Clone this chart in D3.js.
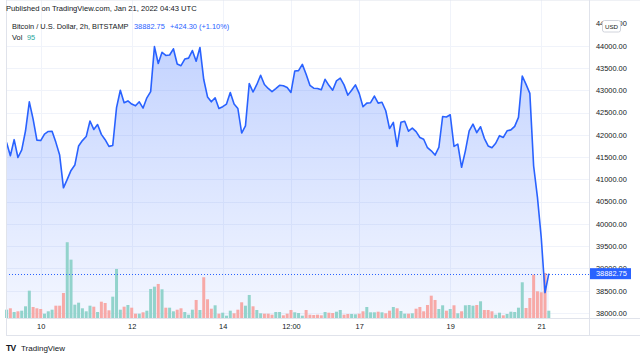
<!DOCTYPE html>
<html>
<head>
<meta charset="utf-8">
<script src="https://cdn.jsdelivr.net/npm/d3@7"></script>
<style>
body { margin: 0; background: #fff; }
svg { display: block; font-family: "Liberation Sans", Arial, sans-serif; }
</style>
</head>
<body>
<svg id="chart" width="640" height="358"></svg>
<script>
// 2h closes, Jan 9 06:00 -> Jan 21 04:00 UTC (BITSTAMP BTCUSD)
var closes = [
  41828, 41530, 41890, 41490, 41660, 42090, 42740, 42350, 41880, 41870,
  42015, 42075, 42080, 41830, 41545, 40810, 41000, 41200, 41320, 41750,
  41870, 41960, 42310, 42120, 42230, 42010, 41890, 41740, 41760, 42610,
  43000, 42720, 42760, 42690, 42650, 42740, 42600, 42830, 42970, 43980,
  43600, 43850, 43780, 43790, 43930, 43590, 43550, 43700, 43720, 43890,
  43650, 43960, 43240, 42850, 42740, 42830, 42590, 42630, 42690, 42950,
  42690, 42590, 42040, 42200, 43150, 42960, 43130, 43335, 43130, 43040,
  42970, 43037, 43110, 43100, 43060, 42950, 43430, 43440, 43580, 43360,
  43110, 43045, 43040, 43010, 43245, 43110, 43000, 43210, 43270, 43120,
  42890, 43000, 43120, 42930, 42630, 42710, 42720, 42870, 42710, 42730,
  42540, 42140, 42280, 41740, 42280, 42305, 42080, 42150, 42070, 41940,
  41900, 41710, 41640, 41545, 41715, 42410, 42400, 42450, 41740, 41790,
  41270, 41640, 42090, 42240, 42050, 42180, 41920, 41750, 41710, 41810,
  41980, 41940, 42090, 42110, 42190, 42390, 43320, 43130, 42930, 41300,
  40600, 39700, 38458.45, 38882.75
];

// volume per bar (BTC)
var volumes = [
  108, 126, 78, 87, 95, 152, 355, 143, 126, 117,
  56, 87, 108, 160, 160, 325, 984, 758, 173, 199,
  126, 87, 160, 147, 78, 212, 195, 100, 277, 637,
  108, 147, 169, 134, 56, 56, 74, 95, 377, 407,
  442, 373, 134, 134, 87, 108, 126, 78, 43, 108,
  234, 104, 529, 243, 121, 165, 56, 69, 30, 95,
  61, 108, 204, 160, 299, 152, 104, 61, 56, 56,
  43, 78, 78, 35, 56, 104, 74, 65, 30, 104,
  43, 39, 43, 35, 78, 69, 65, 82, 104, 43,
  52, 52, 48, 56, 87, 143, 74, 74, 82, 74,
  61, 95, 143, 126, 91, 56, 56, 61, 121, 143,
  87, 169, 290, 234, 117, 165, 95, 117, 165, 61,
  87, 165, 169, 160, 169, 217, 104, 104, 87, 43,
  69, 35, 52, 82, 78, 134, 464, 130, 260, 563,
  347, 334, 585, 95
];

var firstBar = Date.UTC(2022, 0, 9, 6);
var barMs = 2 * 3600 * 1000;

var tickDates = [
  Date.UTC(2022, 0, 10), Date.UTC(2022, 0, 12), Date.UTC(2022, 0, 14),
  Date.UTC(2022, 0, 15, 12), Date.UTC(2022, 0, 17), Date.UTC(2022, 0, 19),
  Date.UTC(2022, 0, 21)
];
var tickLabels = ["10", "12", "14", "12:00", "17", "19", "21"];
var priceTicks = [38000, 38500, 39000, 39500, 40000, 40500, 41000, 41500,
                  42000, 42500, 43000, 43500, 44000, 44500];

var lastPrice = 38882.75;

var svg = d3.select("#chart"),
    left = 6, right = 589, top = 16, bottom = 318,
    fs = "7.4px";

var x = d3.scaleTime()
    .domain([new Date(Date.UTC(2022, 0, 9, 5, 42)), new Date(Date.UTC(2022, 0, 22, 1, 12))])
    .range([left, right]);
var y = d3.scaleLinear().domain([38000, 44500]).range([313, 23.4]);
var yVol = d3.scaleLinear().domain([0, 1000]).range([bottom, bottom - 77]);

var data = closes.map(function(c, i) {
    return {
        t: new Date(firstBar + i * barMs),
        close: c,
        vol: volumes[i],
        up: i === 0 ? true : c >= closes[i - 1]
    };
});

var defs = svg.append("defs");
var grad = defs.append("linearGradient")
    .attr("id", "areaFill")
    .attr("gradientUnits", "userSpaceOnUse")
    .attr("x1", 0).attr("y1", 45).attr("x2", 0).attr("y2", bottom);
grad.append("stop").attr("offset", "0%").attr("stop-color", "rgba(41,98,255,0.28)");
grad.append("stop").attr("offset", "100%").attr("stop-color", "rgba(41,98,255,0.05)");

// grid
var grid = svg.append("g").attr("stroke", "#f0f3fa").attr("stroke-width", 1);
grid.selectAll(".hg")
    .data(priceTicks.filter(function(d) { return d <= 44000; }))
  .enter().append("line")
    .attr("x1", left).attr("x2", right)
    .attr("y1", function(d) { return Math.round(y(d)) + 0.5; })
    .attr("y2", function(d) { return Math.round(y(d)) + 0.5; });
grid.selectAll(".vg")
    .data(tickDates)
  .enter().append("line")
    .attr("y1", top).attr("y2", bottom)
    .attr("x1", function(d) { return Math.round(x(d)) + 0.5; })
    .attr("x2", function(d) { return Math.round(x(d)) + 0.5; });

// area + line
svg.append("path")
    .datum(data)
    .attr("fill", "url(#areaFill)")
    .attr("d", d3.area()
        .x(function(d) { return x(d.t); })
        .y0(bottom)
        .y1(function(d) { return y(d.close); }));

// volume
svg.append("g").selectAll("rect")
    .data(data)
  .enter().append("rect")
    .attr("x", function(d) { return x(d.t) - 1.5; })
    .attr("width", 3)
    .attr("y", function(d) { return yVol(d.vol); })
    .attr("height", function(d) { return bottom - yVol(d.vol); })
    .attr("fill", function(d) { return d.up ? "#92d3cc" : "#f7a9a7"; });

svg.append("path")
    .datum(data)
    .attr("fill", "none")
    .attr("stroke", "#2962ff")
    .attr("stroke-width", 1.6)
    .attr("stroke-linejoin", "round")
    .attr("d", d3.line()
        .x(function(d) { return x(d.t); })
        .y(function(d) { return y(d.close); }));

// last price dotted line
svg.append("line")
    .attr("x1", left).attr("x2", right)
    .attr("y1", Math.round(y(lastPrice)) + 0.5)
    .attr("y2", Math.round(y(lastPrice)) + 0.5)
    .attr("stroke", "#2962ff")
    .attr("stroke-width", 1)
    .attr("stroke-dasharray", "1,2");

// frame
var frame = svg.append("g").attr("stroke", "#e0e3eb").attr("stroke-width", 1).attr("fill", "none");
frame.append("line").attr("x1", left).attr("x2", 640).attr("y1", top - 0.5).attr("y2", top - 0.5);
frame.append("line").attr("x1", left + 0.5).attr("x2", left + 0.5).attr("y1", top).attr("y2", 336);
frame.append("line").attr("x1", right + 0.5).attr("x2", right + 0.5).attr("y1", top).attr("y2", 336);
frame.append("line").attr("x1", left).attr("x2", 640).attr("y1", bottom + 0.5).attr("y2", bottom + 0.5);
frame.append("line").attr("x1", left).attr("x2", 640).attr("y1", 335.5).attr("y2", 335.5);

// price axis
var yAxis = svg.append("g")
    .attr("transform", "translate(" + (right + 1) + ",0)")
    .call(d3.axisRight(y)
        .tickValues(priceTicks)
        .tickFormat(function(d) { return d3.format(".2f")(d); })
        .tickSize(0)
        .tickPadding(6));
yAxis.select(".domain").remove();
yAxis.selectAll("text")
    .attr("fill", "#131722")
    .style("font-size", fs);

// time axis
var xAxis = svg.append("g")
    .attr("transform", "translate(0," + bottom + ")")
    .call(d3.axisBottom(x)
        .tickValues(tickDates.map(function(d) { return new Date(d); }))
        .tickFormat(function(d, i) { return tickLabels[i]; })
        .tickSize(0)
        .tickPadding(6));
xAxis.select(".domain").remove();
xAxis.selectAll("text")
    .attr("fill", "#131722")
    .style("font-size", fs);

// last price label
var ly = y(lastPrice);
svg.append("rect")
    .attr("x", right + 1).attr("y", ly - 5.5)
    .attr("width", 41).attr("height", 11)
    .attr("fill", "#2962ff");
svg.append("text")
    .attr("x", right + 7).attr("y", ly + 2.7)
    .attr("fill", "#fff")
    .style("font-size", fs)
    .text(d3.format(".2f")(lastPrice));

// USD badge
svg.append("rect")
    .attr("x", 602.5).attr("y", 20.5)
    .attr("width", 18).attr("height", 11.5).attr("rx", 2)
    .attr("fill", "#fff").attr("stroke", "#d1d4dc");
svg.append("text")
    .attr("x", 611.5).attr("y", 28.7)
    .attr("text-anchor", "middle")
    .attr("fill", "#131722")
    .style("font-size", "6.2px")
    .text("USD");

// header
svg.append("text")
    .attr("x", 6).attr("y", 10.8)
    .attr("fill", "#131722")
    .style("font-size", "7.6px")
    .text("Published on TradingView.com, Jan 21, 2022 04:43 UTC");

var title = svg.append("text")
    .attr("x", 12).attr("y", 28.7)
    .style("font-size", fs);
title.append("tspan").attr("fill", "#131722").text("Bitcoin / U.S. Dollar, 2h, BITSTAMP");
title.append("tspan").attr("x", 134).attr("fill", "#2962ff").text("38882.75");
title.append("tspan").attr("x", 170).attr("fill", "#2962ff").text("+424.30 (+1.10%)");

var vol = svg.append("text")
    .attr("x", 12).attr("y", 39.5)
    .style("font-size", fs);
vol.append("tspan").attr("fill", "#131722").text("Vol");
vol.append("tspan").attr("x", 27).attr("fill", "#26a69a").text(volumes[volumes.length - 1]);

// footer logo
svg.append("text")
    .attr("x", 6).attr("y", 350.5)
    .attr("fill", "#131722")
    .style("font-size", "8.5px")
    .style("font-weight", "900")
    .style("letter-spacing", "-0.8px")
    .text("TV");
svg.append("text")
    .attr("x", 21).attr("y", 350.5)
    .attr("fill", "#131722")
    .style("font-size", "8px")
    .text("TradingView");
</script>
</body>
</html>
